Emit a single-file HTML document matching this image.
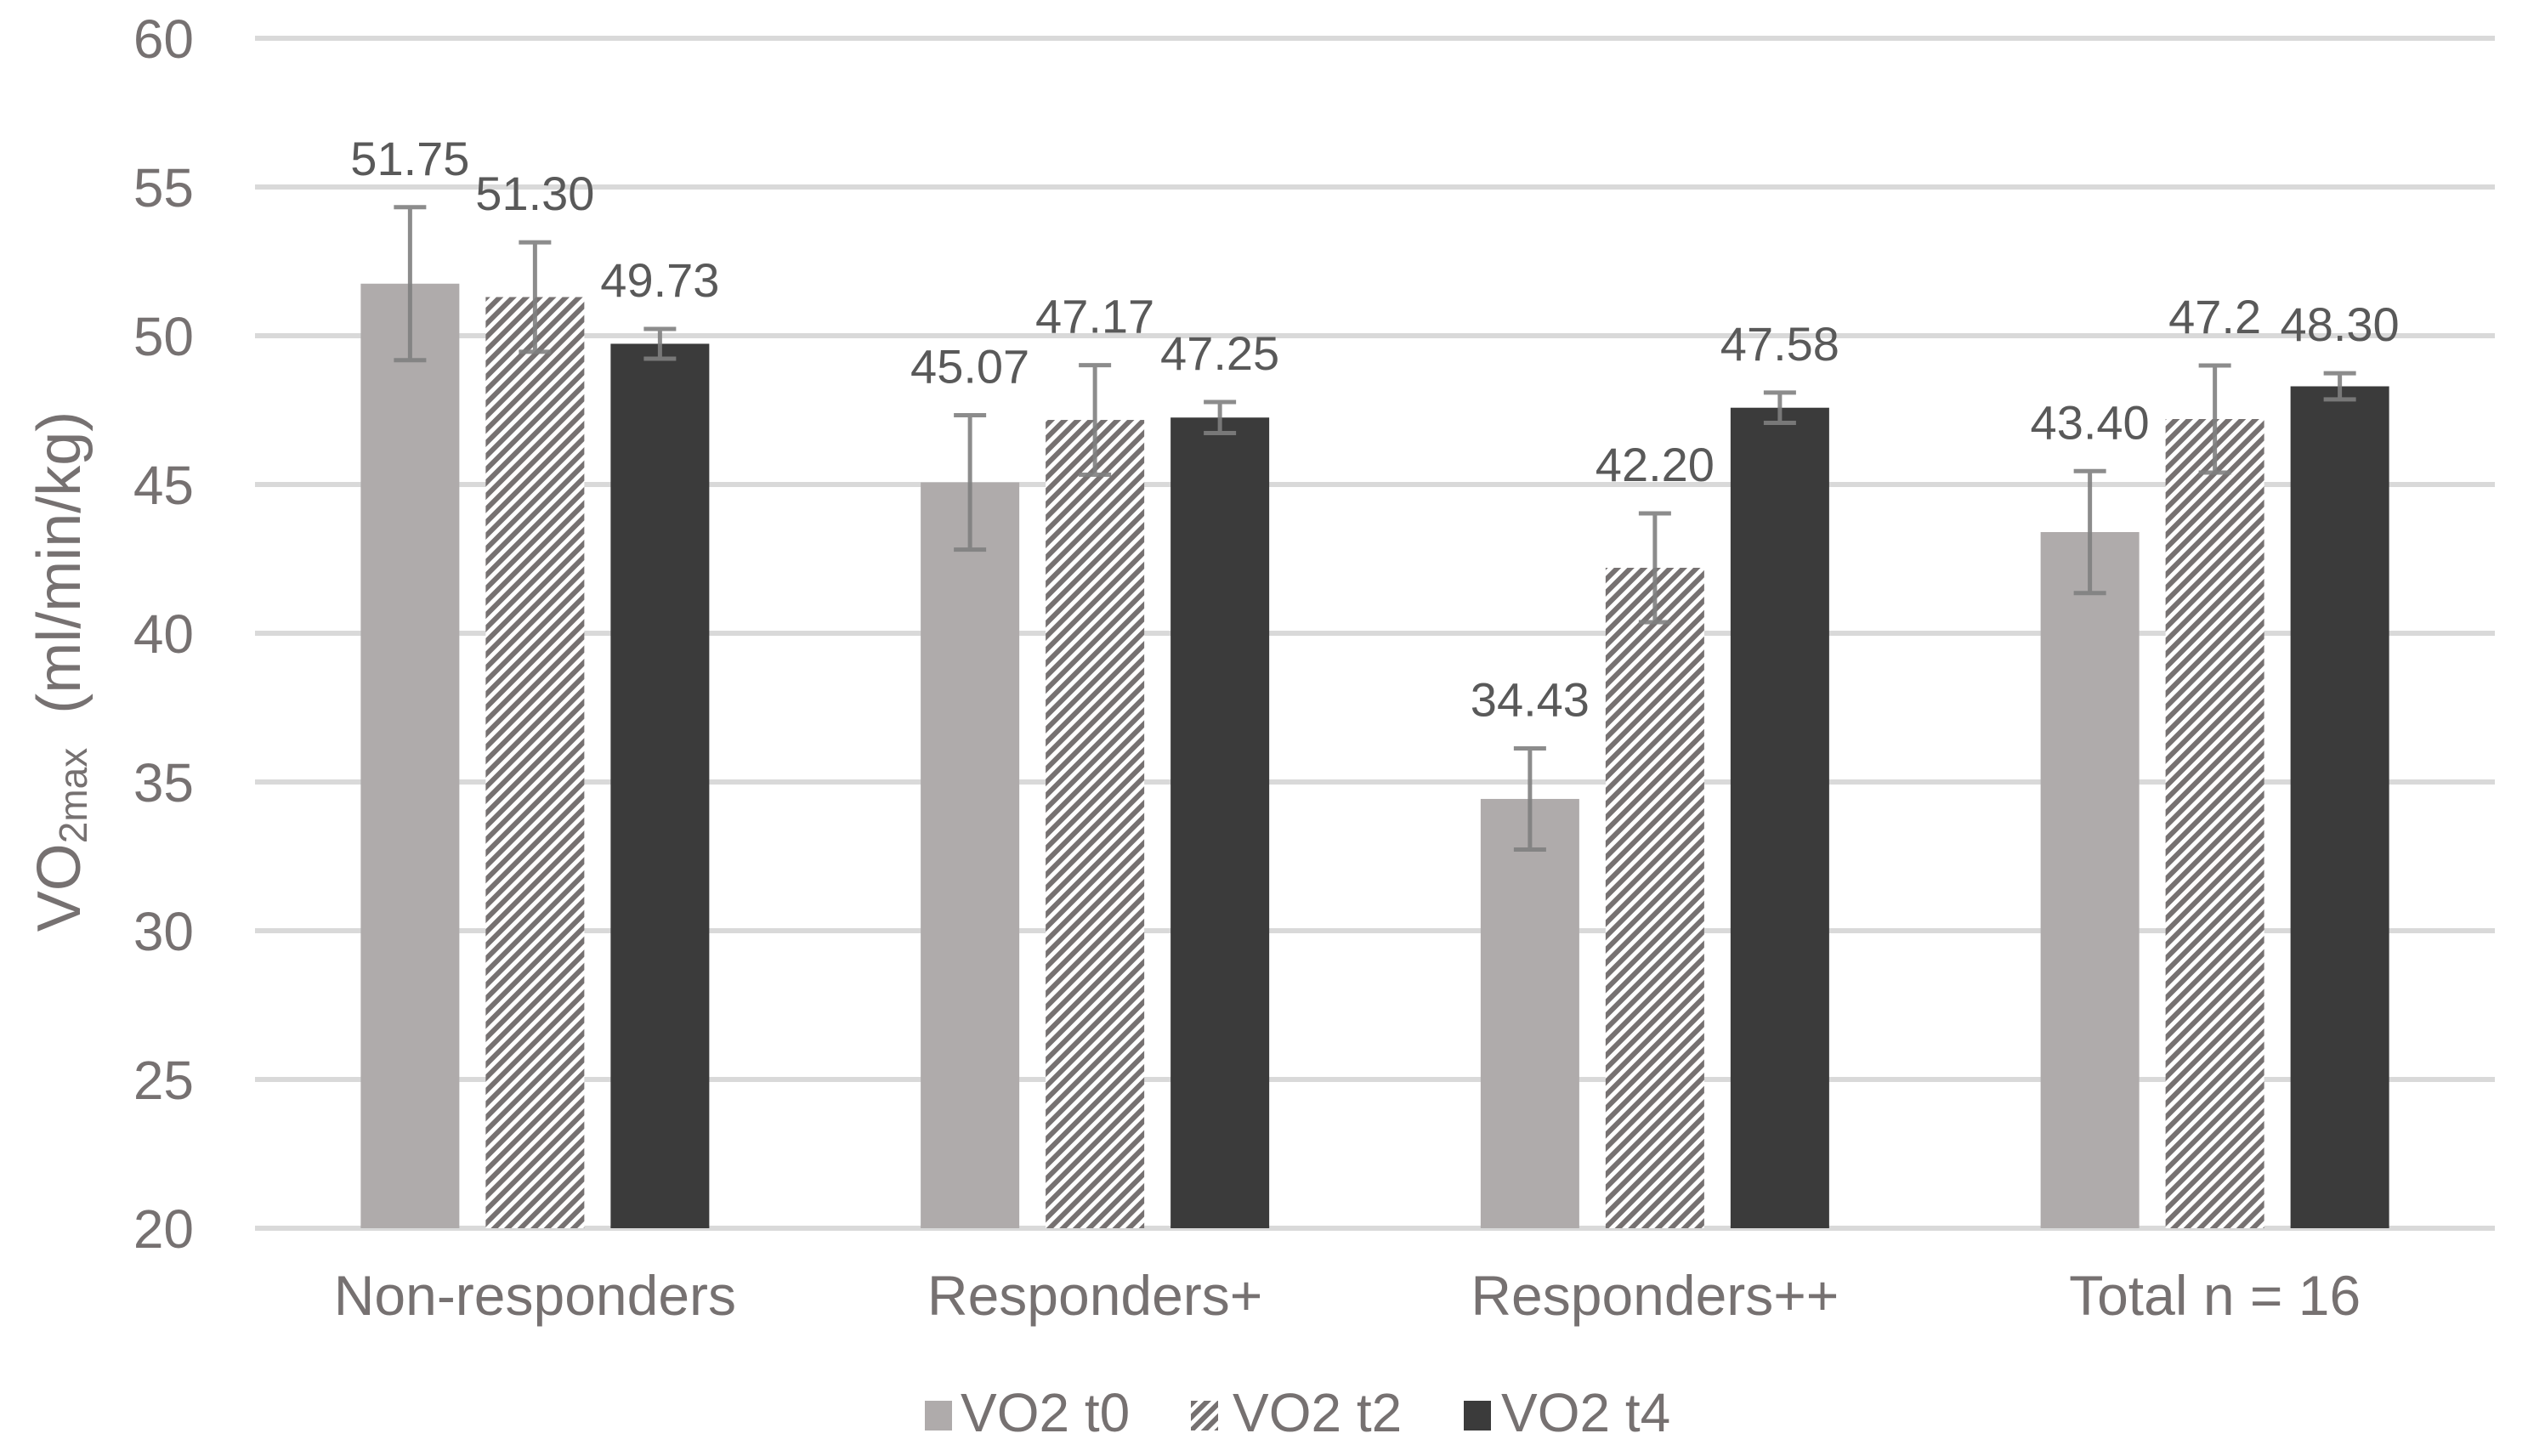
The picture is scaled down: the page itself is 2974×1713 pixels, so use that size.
<!DOCTYPE html>
<html><head><meta charset="utf-8"><style>
html,body{margin:0;padding:0;background:#fff;}
svg{display:block;font-family:"Liberation Sans",sans-serif;}
</style></head><body>
<svg id="chart" width="2974" height="1713" viewBox="0 0 2974 1713" xmlns="http://www.w3.org/2000/svg">
<defs>
<pattern id="hatch" patternUnits="userSpaceOnUse" width="11" height="11" patternTransform="rotate(45)">
<rect width="11" height="11" fill="#fff"/>
<rect x="0" y="0" width="6" height="11" fill="#767171"/>
</pattern>
</defs>
<g id="grid"></g>
<g id="yticks"></g>
<g id="bars"></g>
<g id="errs"></g>
<g id="vlabels"></g>
<g id="xlabels"></g>
<text transform="translate(70,790) rotate(-90)" text-anchor="middle" font-size="72" fill="#767171" dominant-baseline="central">VO<tspan font-size="46" dy="16">2max</tspan><tspan dy="-16" xml:space="preserve">  (ml/min/kg)</tspan></text>
<g font-size="64" fill="#767171">
<rect x="1088" y="1648" width="32" height="35" fill="#AFABAB"/>
<text x="1130" y="1684">VO2 t0</text>
<rect x="1401" y="1648" width="32" height="35" fill="url(#hatch)"/>
<text x="1450" y="1684">VO2 t2</text>
<rect x="1722" y="1648" width="32" height="35" fill="#3B3B3B"/>
<text x="1766" y="1684">VO2 t4</text>
</g>
</svg>
<script>
const categories = ["Non-responders","Responders+","Responders++","Total n = 16"];
const seriesT0 = [51.75, 45.07, 34.43, 43.40];
const seriesT2 = [51.30, 47.17, 42.20, 47.2];
const seriesT4 = [49.73, 47.25, 47.58, 48.30];
const errT0 = [2.57, 2.26, 1.7, 2.05];
const errT2 = [1.84, 1.84, 1.83, 1.8];
const errT4 = [0.5, 0.52, 0.51, 0.44];
const labelsT0 = ["51.75","45.07","34.43","43.40"];
const labelsT2 = ["51.30","47.17","42.20","47.2"];
const labelsT4 = ["49.73","47.25","47.58","48.30"];
const yTicks = [20,25,30,35,40,45,50,55,60];

const NS="http://www.w3.org/2000/svg";
const X0=300, X1=2935, Y0=1445, Y1=45, YMIN=20, YMAX=60;
function y(v){return Y0-(v-YMIN)/(YMAX-YMIN)*(Y0-Y1);}
const catW=(X1-X0)/categories.length;
function cx(i){return X0+catW*(i+0.5);}
function mk(tag,attrs,parent){const e=document.createElementNS(NS,tag);for(const k in attrs)e.setAttribute(k,attrs[k]);parent.appendChild(e);return e;}
const g=id=>document.getElementById(id);

yTicks.forEach(t=>{
  const l=mk('line',{x1:X0,x2:X1,y1:y(t),y2:y(t),stroke:'#D9D9D9','stroke-width':6},g('grid'));
  
  
  const tx=mk('text',{x:228,y:y(t)+23,'text-anchor':'end','font-size':64,fill:'#767171'},g('yticks'));
  tx.textContent=t;
  
  
});

const series=[
 {vals:seriesT0,errs:errT0,labels:labelsT0,fill:'#AFABAB',key:'t0'},
 {vals:seriesT2,errs:errT2,labels:labelsT2,fill:'url(#hatch)',key:'t2'},
 {vals:seriesT4,errs:errT4,labels:labelsT4,fill:'#3B3B3B',key:'t4'}];
const BW=116, STEP=147;
categories.forEach((c,i)=>{
  series.forEach((s,j)=>{
    const bx=cx(i)+(j-1)*STEP-BW/2;
    const top=y(s.vals[i]);
    const r=mk('rect',{x:bx,y:top,width:BW,height:Y0-top,fill:s.fill},g('bars'));
    
    
    const mx=bx+BW/2, et=y(s.vals[i]+s.errs[i]), eb=y(s.vals[i]-s.errs[i]);
    const e=mk('path',{d:`M${mx},${et}V${eb}M${mx-19},${et}H${mx+19}M${mx-19},${eb}H${mx+19}`,stroke:'#7F7F7F','stroke-width':5,fill:'none',opacity:0.9},g('errs'));
    
    
    const lb=mk('text',{x:mx,y:et-38,'text-anchor':'middle','font-size':56,fill:'#595959'},g('vlabels'));
    lb.textContent=s.labels[i];
    
    
  });
  const xl=mk('text',{x:cx(i),y:1547,'text-anchor':'middle','font-size':66,fill:'#767171'},g('xlabels'));
  xl.textContent=c;
  
  
});
</script>
</body></html>
